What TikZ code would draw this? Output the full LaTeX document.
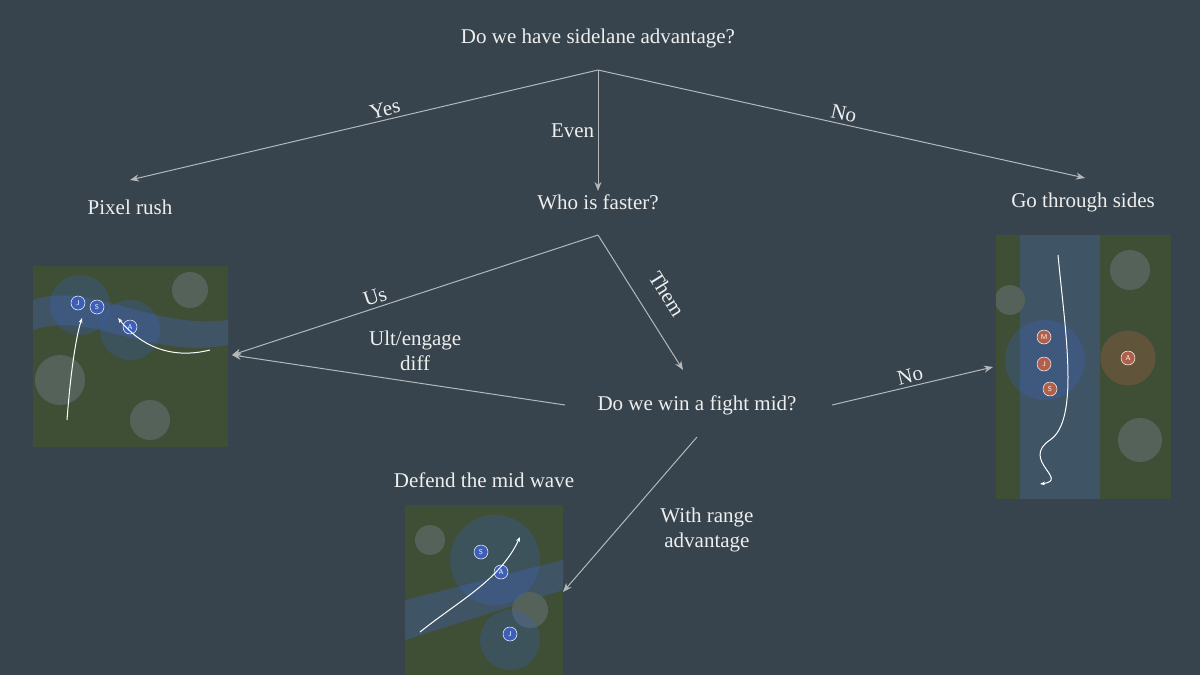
\documentclass[tikz,border=0pt]{standalone}
\usepackage{fontspec}
\setmainfont{Liberation Serif}
\usetikzlibrary{arrows.meta}
\definecolor{bg}{HTML}{37444D}
\definecolor{ln}{HTML}{B4B8BB}
\definecolor{tx}{HTML}{EEEEEE}
\definecolor{grass}{HTML}{3E4F35}
\definecolor{rock}{HTML}{55625A}
\definecolor{river}{HTML}{3F5566}
\definecolor{blu}{HTML}{3D5FB8}
\definecolor{red}{HTML}{B0604A}
\begin{document}
\begin{tikzpicture}[x=1pt,y=-1pt,
  lbl/.style={text=tx,font=\fontsize{21}{25}\selectfont,align=center},
  arr/.style={draw=ln,line width=1pt,-{Stealth[length=9pt,width=7pt]}},
  champ/.style={circle,fill=blu,draw=white!60,line width=0.5pt,inner sep=0pt,minimum size=14pt,text=white,font=\fontsize{7}{8}\selectfont\sffamily},
  enemy/.style={champ,fill=red},
  halo/.style={circle,fill=blu,opacity=0.3,minimum size=60pt},
  path1/.style={draw=white,line width=1pt,-{Stealth[length=5pt]}}]
\fill[bg] (0,0) rectangle (1200,675);
\useasboundingbox (0,0) rectangle (1200,675);

\node[lbl] (q1) at (598,38) {Do we have sidelane advantage?};
\coordinate (s1) at (598,70);
\node[lbl] (pr) at (130,207) {Pixel rush};
\node[lbl] (wf) at (598,202) {Who is faster?};
\node[lbl] (gs) at (1083,202) {Go through sides};
\coordinate (s2) at (598,235);
\node[lbl] (fm) at (697,405) {Do we win a fight mid?};
\node[lbl] (dm) at (484,480) {Defend the mid wave};

% images
\begin{scope}
\clip (33,266) rectangle (228,447);
\fill[grass] (33,266) rectangle (228,447);
\fill[river] (33,300) .. controls (90,280) and (150,330) .. (228,320) -- (228,345) .. controls (150,360) and (90,310) .. (33,330) -- cycle;
\fill[rock] (60,380) circle (25); \fill[rock] (190,290) circle (18); \fill[rock] (150,420) circle (20);
\node[halo] (h1) at (80,305) {}; \node[halo] (h2) at (130,330) {};
\node[champ] (j1) at (78,303) {J}; \node[champ] (s1c) at (97,307) {S}; \node[champ] (a1) at (130,327) {A};
\draw[path1] (67,420) .. controls (70,380) and (75,340) .. (82,318);
\draw[path1] (210,350) .. controls (170,360) and (140,345) .. (118,318);
\end{scope}
\coordinate (img1) at (232,355);

\begin{scope}
\clip (996,235) rectangle (1171,499);
\fill[grass] (996,235) rectangle (1171,499);
\fill[river] (1020,235) rectangle (1100,499);
\fill[rock] (1130,270) circle (20); \fill[rock] (1140,440) circle (22); \fill[rock] (1010,300) circle (15);
\node[halo,minimum size=80pt] at (1045,360) {}; \node[halo,minimum size=55pt,fill=red] at (1128,358) {};
\node[enemy] at (1044,337) {M}; \node[enemy] at (1044,364) {J}; \node[enemy] at (1050,389) {S}; \node[enemy] at (1128,358) {A};
\draw[path1] (1058,255) .. controls (1065,330) and (1080,420) .. (1050,440) .. controls (1020,460) and (1070,480) .. (1040,484);
\end{scope}
\coordinate (img2) at (993,367);

\begin{scope}
\clip (405,505) rectangle (563,675);
\fill[grass] (405,505) rectangle (563,675);
\fill[river] (405,600) -- (563,560) -- (563,590) -- (405,640) -- cycle;
\fill[rock] (530,610) circle (18); \fill[rock] (430,540) circle (15);
\node[halo,minimum size=90pt] at (495,560) {}; \node[halo] at (510,640) {};
\node[champ] at (481,552) {S}; \node[champ] at (501,572) {A}; \node[champ] at (510,634) {J};
\draw[path1] (420,632) .. controls (460,600) and (500,580) .. (520,537);
\end{scope}
\coordinate (img3) at (563,592);

% connectors
\draw[arr] (s1) -- (130,180) node[lbl,pos=0.45,above,sloped] {Yes};
\draw[arr] (s1) -- (wf.north) node[lbl,pos=0.5,left] {Even};
\draw[arr] (s1) -- (1085,178) node[lbl,pos=0.5,above,sloped] {No};
\draw[arr] (s2) -- (img1) node[lbl,pos=0.6,above,sloped] {Us};
\draw[arr] (s2) -- (683,370);
\node[lbl,rotate=-58] (them) at (667,294) {Them};
\draw[arr] (565,405) -- (img1) node[lbl,pos=0.45,above=8pt] {Ult/engage\\diff};
\draw[arr] (832,405) -- (img2) node[lbl,pos=0.5,above,sloped] {No};
\draw[arr] (697,437) -- (img3) node[lbl,pos=0.6,right=40pt] {With range\\advantage};
\end{tikzpicture}
\end{document}
